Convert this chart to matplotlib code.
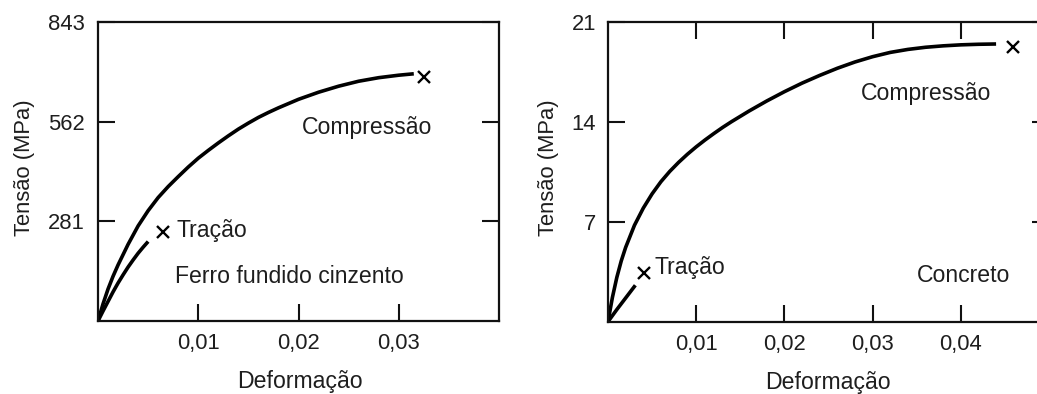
import matplotlib
matplotlib.use("Agg")
import matplotlib.pyplot as plt

plt.rcParams['font.family'] = ['Liberation Sans', 'DejaVu Sans']

# ferro fundido cinzento (deformacao, tensao MPa)
ferro_comp_x = [0.0, 0.0005, 0.001, 0.0015, 0.002, 0.003, 0.004, 0.005, 0.006, 0.007, 0.008,
                0.009, 0.010, 0.011, 0.012, 0.013, 0.014, 0.015, 0.016, 0.017, 0.018, 0.019,
                0.020, 0.022, 0.024, 0.026, 0.028, 0.030, 0.0315]
ferro_comp_y = [0, 48, 90, 126, 158, 216, 268, 311, 348, 379, 407, 434, 459, 481, 502, 522,
                541, 558, 574, 588, 601, 613, 625, 645, 662, 676, 686, 693, 697]
ferro_comp_rup = (0.0325, 689)
ferro_trac_x = [0.0, 0.0005, 0.001, 0.0015, 0.002, 0.0025, 0.003, 0.0035, 0.004, 0.0045, 0.005]
ferro_trac_y = [0, 28, 55, 82, 107, 130, 152, 172, 191, 208, 224]
ferro_trac_rup = (0.0065, 250)

# concreto
conc_comp_x = [0.0, 0.0005, 0.001, 0.0015, 0.002, 0.003, 0.004, 0.005, 0.006, 0.007, 0.008,
               0.009, 0.010, 0.011, 0.012, 0.013, 0.014, 0.016, 0.018, 0.020, 0.022, 0.024,
               0.026, 0.028, 0.030, 0.032, 0.034, 0.036, 0.038, 0.040, 0.042, 0.044]
conc_comp_y = [0, 1.7, 3.1, 4.25, 5.2, 6.75, 7.95, 8.95, 9.8, 10.52, 11.15, 11.72, 12.24,
               12.72, 13.17, 13.6, 14.0, 14.75, 15.45, 16.1, 16.7, 17.24, 17.74, 18.18,
               18.55, 18.85, 19.06, 19.21, 19.31, 19.38, 19.42, 19.44]
conc_comp_rup = (0.04595, 19.25)
conc_trac_x = [0.0, 0.001, 0.002, 0.0031]
conc_trac_y = [0, 0.85, 1.66, 2.55]
conc_trac_rup = (0.00408, 3.39)

ferro_xticks = [0.01, 0.02, 0.03]
ferro_xlabels = ['0,01', '0,02', '0,03']
ferro_yticks = [281, 562, 843]
conc_xticks = [0.01, 0.02, 0.03, 0.04]
conc_xlabels = ['0,01', '0,02', '0,03', '0,04']
conc_yticks = [7, 14, 21]

FS_TICK = 15.8
FS_TXT = 16.6
TXT = '#1e1e1e'

fig = plt.figure(figsize=(10.37, 3.94), dpi=100)
ax1 = fig.add_axes([98 / 1037, 73 / 394, 401 / 1037, 299 / 394])
ax2 = fig.add_axes([608 / 1037, 72.3 / 394, 441 / 1037, 300 / 394])


def style(ax):
    for s in ax.spines.values():
        s.set_linewidth(1.6)
        s.set_color('#111111')
    ax.tick_params(direction='in', length=12, width=1.5, color='#111111',
                   labelsize=FS_TICK, labelcolor=TXT, pad=8.5)


def draw(ax, xs, ys, rup):
    ax.plot(xs, ys, color='black', lw=2.6, solid_capstyle='butt', solid_joinstyle='round')
    ax.plot(*rup, marker='x', ms=8.5, mew=1.7, color='black')


# painel esquerdo
draw(ax1, ferro_comp_x, ferro_comp_y, ferro_comp_rup)
draw(ax1, ferro_trac_x, ferro_trac_y, ferro_trac_rup)
ax1.set_xlim(0, 0.04)
ax1.set_ylim(0, 843)
ax1.set_xticks(ferro_xticks, ferro_xlabels)
ax1.set_yticks(ferro_yticks, [str(v) for v in ferro_yticks])
style(ax1)
ax1.tick_params(axis='y', left=True, right=True, pad=9.4)
ax1.text(0.0078, 237, 'Tração', fontsize=FS_TXT, color=TXT, va='baseline')
ax1.text(0.0203, 527, 'Compressão', fontsize=FS_TXT, color=TXT, va='baseline')
ax1.text(0.0077, 108, 'Ferro fundido cinzento', fontsize=FS_TXT, color=TXT, va='baseline')
ax1.set_xlabel('Deformação', fontsize=FS_TXT, color=TXT)
ax1.set_ylabel('Tensão (MPa)', fontsize=FS_TICK, color=TXT)
ax1.xaxis.set_label_coords(0.504, -0.165)
ax1.yaxis.set_label_coords(-0.157, 0.512)

# painel direito
draw(ax2, conc_comp_x, conc_comp_y, conc_comp_rup)
draw(ax2, conc_trac_x, conc_trac_y, conc_trac_rup)
ax2.set_xlim(0, 0.05)
ax2.set_ylim(0, 21)
ax2.set_xticks(conc_xticks, conc_xlabels)
ax2.set_yticks(conc_yticks, [str(v) for v in conc_yticks])
style(ax2)
ax2.tick_params(axis='x', top=True, bottom=True)
ax2.tick_params(axis='y', left=True, right=True)
ax2.text(0.0053, 3.34, 'Tração', fontsize=FS_TXT, color=TXT, va='baseline')
ax2.text(0.0287, 15.52, 'Compressão', fontsize=FS_TXT, color=TXT, va='baseline')
ax2.text(0.0350, 2.76, 'Concreto', fontsize=FS_TXT, color=TXT, va='baseline')
ax2.set_xlabel('Deformação', fontsize=FS_TXT, color=TXT)
ax2.set_ylabel('Tensão (MPa)', fontsize=FS_TICK, color=TXT)
ax2.xaxis.set_label_coords(0.499, -0.163)
ax2.yaxis.set_label_coords(-0.111, 0.512)

fig.savefig('out.png', dpi=100)
